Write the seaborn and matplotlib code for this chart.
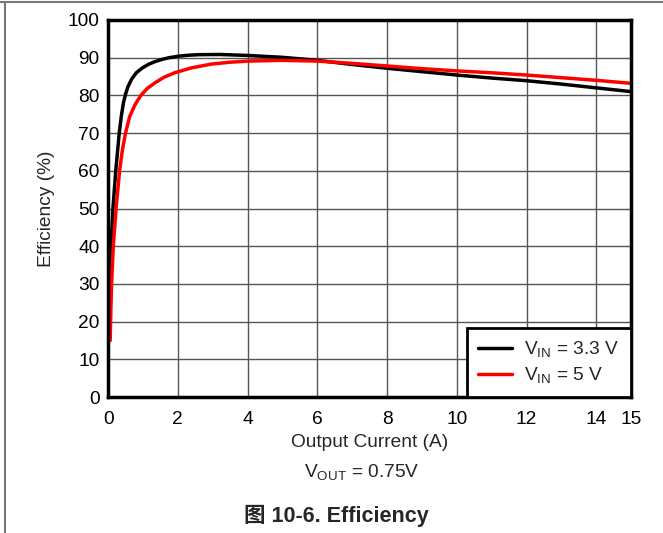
import numpy as np
import pandas as pd
import matplotlib.pyplot as plt
from matplotlib.lines import Line2D
import seaborn as sns

# efficiency curves
i_33 = [0.05, 0.07, 0.095, 0.14, 0.22, 0.32, 0.38, 0.44, 0.5, 0.57, 0.68, 0.81, 0.97, 1.15,
        1.33, 1.53, 1.75, 2.02, 2.3, 2.6, 3.2, 4.0, 5.0, 6.0,
        7.0, 8.0, 9.0, 10.0, 11.0, 12.0, 13.0, 14.0, 15.0]
eff_33 = [30, 36, 42, 50, 60, 70, 74.5, 78, 80.3, 82.3, 84.4, 86.0, 87.2, 88.2,
          88.9, 89.5, 90.0, 90.4, 90.65, 90.8, 90.85, 90.6, 90.1, 89.3,
          88.2, 87.2, 86.3, 85.4, 84.6, 83.9, 83.0, 82.0, 81.0]
i_5 = [0.06, 0.08, 0.1, 0.15, 0.23, 0.33, 0.41, 0.5, 0.62, 0.77, 0.94, 1.13, 1.34, 1.6,
       1.91, 2.39, 2.96, 3.5, 4.0, 5.0, 6.0,
       7.0, 8.0, 9.0, 10.0, 11.0, 12.0, 13.0, 14.0, 15.0]
eff_5 = [15, 23, 30, 40, 50, 60, 65.5, 70, 74.4, 77.5, 80, 81.9, 83.3, 84.8,
         86.0, 87.3, 88.3, 88.8, 89.1, 89.3, 89.1,
         88.5, 87.8, 87.1, 86.5, 86.0, 85.4, 84.7, 84.0, 83.2]
labels = [r"V$_{\mathrm{IN}}$ = 3.3 V", r"V$_{\mathrm{IN}}$ = 5 V"]
xticks = [0, 2, 4, 6, 8, 10, 12, 14, 15]
yticks = list(range(0, 101, 10))

df = pd.concat([
    pd.DataFrame({"I": i_33, "eff": eff_33, "vin": labels[0]}),
    pd.DataFrame({"I": i_5, "eff": eff_5, "vin": labels[1]}),
])

sns.set_style("white")
plt.rcParams["font.family"] = ["Liberation Sans", "Noto Sans CJK SC"]
plt.rcParams["mathtext.fontset"] = "custom"
plt.rcParams["mathtext.rm"] = "Liberation Sans"

fs = 13.8
fig = plt.figure(figsize=(6.63, 5.33), dpi=100)
ax = fig.add_axes([0.163, 0.255, 0.789, 0.7075])

sns.lineplot(data=df, x="I", y="eff", hue="vin", palette=["black", "#ff0000"],
             linewidth=2.5, ax=ax, sort=False)

ax.set_xlim(0, 15)
ax.set_ylim(0, 100)
ax.set_xticks(xticks)
ax.set_yticks(yticks)
ax.grid(True, color="#555555", linewidth=1)
ax.tick_params(length=0, labelsize=fs, colors="black")
ax.tick_params(axis="x", pad=10)
ax.tick_params(axis="y", pad=6)
for s in ax.spines.values():
    s.set_color("black")
    s.set_linewidth(2.5)
ax.set_xlabel("Output Current (A)", fontsize=fs, labelpad=4)
ax.set_ylabel("Efficiency (%)", fontsize=fs, labelpad=9)

leg = ax.legend(loc="lower right", borderaxespad=0, fontsize=fs, fancybox=False,
                handlelength=1.75, handletextpad=0.65, labelspacing=0.3,
                borderpad=0.6)
leg.get_frame().set_edgecolor("black")
leg.get_frame().set_linewidth(2)
leg.get_frame().set_alpha(1)

fig.text(0.545, 0.113, r"V$_{\mathrm{OUT}}$ = 0.75V", ha="center", va="center", fontsize=fs)
fig.text(0.508, 0.032, "图 10-6. Efficiency", ha="center", va="center",
         fontsize=15.5, fontweight="bold")

fig.add_artist(Line2D([0, 1], [0.996, 0.996], color="#777777", linewidth=1.5))
fig.add_artist(Line2D([0.0075, 0.0075], [0, 0.996], color="#777777", linewidth=1.5))

fig.savefig("out.png", dpi=100)
